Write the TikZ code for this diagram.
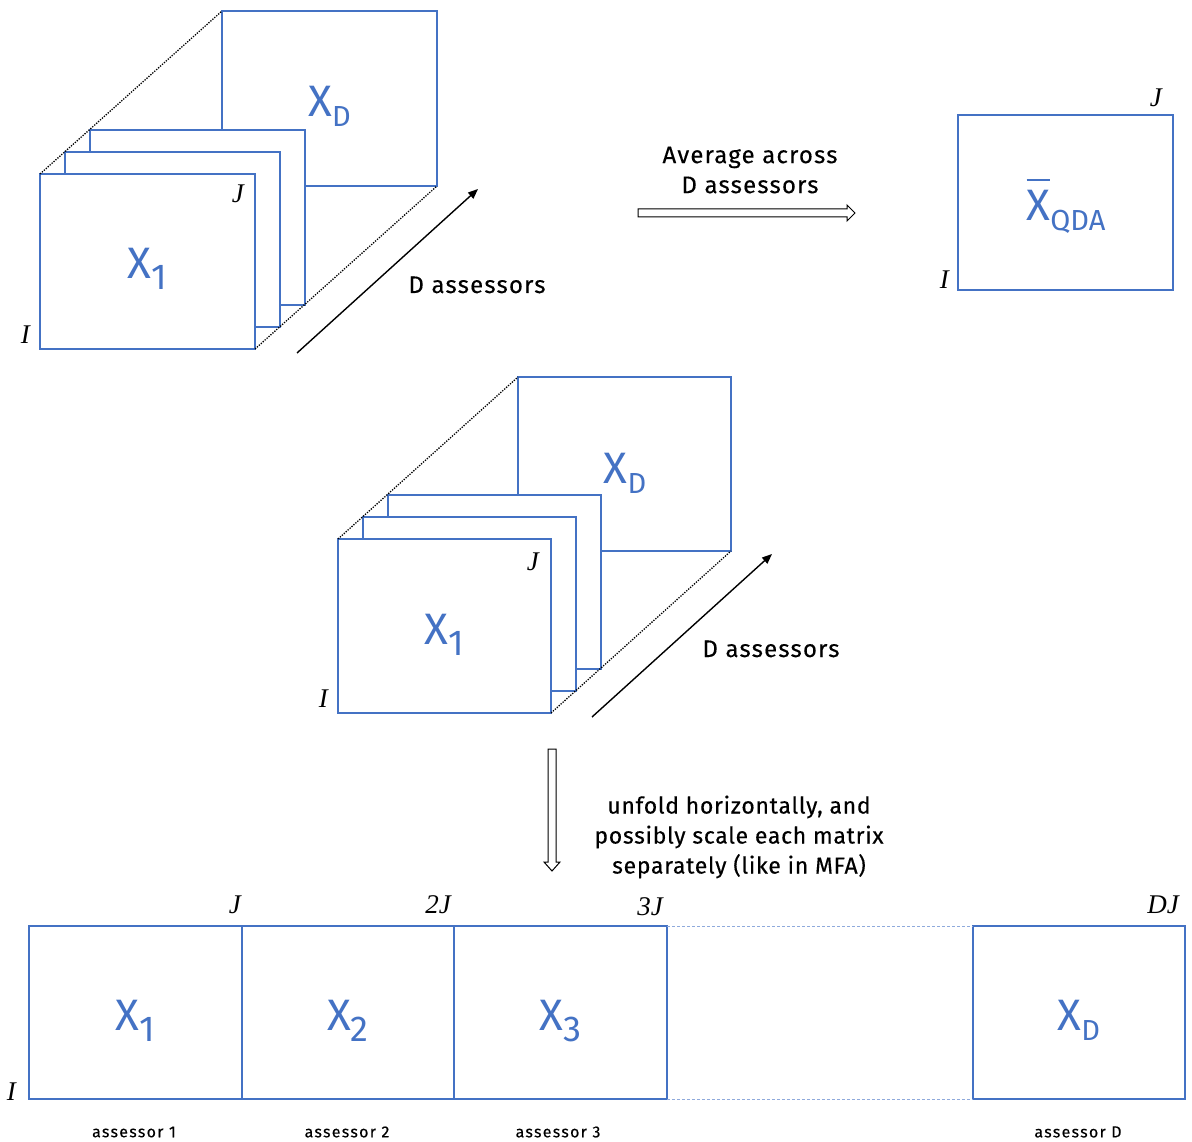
\documentclass[tikz,border=0pt]{standalone}
\usepackage{fontspec}
\setmainfont{Fira Sans}
\newfontfamily\tms{Liberation Serif}
\newfontfamily\lbl[LetterSpace=5,FakeBold=0.3]{Fira Sans}
\newfontfamily\lblu[LetterSpace=3,FakeBold=0.3]{Fira Sans}
\newfontfamily\lbls[LetterSpace=8,FakeBold=0.3]{Fira Sans}
\usetikzlibrary{arrows.meta}
\definecolor{mblue}{HTML}{4472C4}
\definecolor{dblue}{HTML}{8FAADC}
\newcommand\mX[1]{{\fontsize{44}{44}\selectfont X}\raisebox{-11pt}{\fontsize{36}{36}\selectfont #1}}
\newcommand\mXl[1]{{\fontsize{44}{44}\selectfont X}\raisebox{-10pt}{\fontsize{29}{29}\selectfont #1}}
\newcommand\mbarX{{\fontsize{44}{44}\selectfont\setbox0\hbox{X}\rlap{\raisebox{\dimexpr\ht0+10pt\relax}{\rule{\wd0}{1.8pt}}}\box0}\raisebox{-10pt}{\fontsize{29}{29}\selectfont QDA}}
\tikzset{
 mat/.style={draw=mblue, line width=1.4pt, fill=white, minimum width=215pt, minimum height=175pt, anchor=north west, inner sep=0pt, outer sep=0pt},
 matm/.style={mat, minimum width=213pt, minimum height=174pt},
 matb/.style={mat, fill=none, minimum width=213pt, minimum height=173pt},
 mlab/.style={text=mblue, inner sep=0pt, anchor=base},
 ital/.style={font=\tms\itshape\fontsize{27}{27}\selectfont, inner sep=0pt, anchor=base east},
 txt/.style={font=\lbl\fontsize{24}{30}\selectfont, align=center, inner sep=0pt},
 txtu/.style={font=\lblu\fontsize{23}{30}\selectfont, align=center, inner sep=0pt},
 smalltxt/.style={font=\lbls\fontsize{16}{16}\selectfont, inner sep=0pt},
 dots/.style={dash pattern=on 1.3pt off 1.3pt, line width=1.3pt},
 darrow/.style={-{Triangle[length=10pt,width=8pt]}, line width=1.4pt},
 hollow/.style={draw=black, line width=1pt, fill=white},
 gap/.style={dash pattern=on 3pt off 2pt, draw=dblue, line width=0.8pt}
}
\begin{document}
\begin{tikzpicture}[x=1pt,y=-1pt]
\useasboundingbox (0,0) rectangle (1192,1142);
% ---------- top stack ----------
\node[mat] (tb) at (222,11) {};
\node[mat] (t3) at (90,130) {};
\node[mat] (t2) at (65,152) {};
\node[mat] (t1) at (40,174) {};
\draw[dots] (t1.north west) -- (tb.north west);
\draw[dots] (t1.south east) -- (tb.south east);
\node[mlab] (tbl) at (329.5,117) {\mXl{D}};
\node[mlab] (t1l) at (147,279) {\mX{1}};
\node[ital] (tJ) at (244,203) {J};
\node[ital] (tI) at (30,343) {I};
\coordinate (ta0) at (297,353);
\coordinate (ta1) at (478,189);
\draw[darrow] (ta0) -- (ta1);
\node[txt, anchor=base] (tal) at (477,293) {D assessors};
% ---------- average ----------
\node[txt] (avg) at (750,170) {Average across\\D assessors};
\draw[hollow] (638,209) -- (847,209) -- (847,205) -- (855,213) -- (847,221) -- (847,217) -- (638,217) -- cycle;
\node[mat] (q) at (958,115) {};
\node[mlab] (ql) at (1066,221) {\mbarX};
\node[ital] (qJ) at (1162,107) {J};
\node[ital] (qI) at (949,288) {I};
% ---------- middle stack ----------
\node[matm] (mb) at (518,377) {};
\node[matm] (m3) at (388,495) {};
\node[matm] (m2) at (363,517) {};
\node[matm] (m1) at (338,539) {};
\draw[dots] (m1.north west) -- (mb.north west);
\draw[dots] (m1.south east) -- (mb.south east);
\node[mlab] (mbl) at (625,483) {\mXl{D}};
\node[mlab] (m1l) at (444,644) {\mX{1}};
\node[ital] (mJ) at (539,570) {J};
\node[ital] (mI) at (328,707) {I};
\coordinate (ma0) at (592,717);
\coordinate (ma1) at (772,554);
\draw[darrow] (ma0) -- (ma1);
\node[txt, anchor=base] (mal) at (771,657) {D assessors};
% ---------- unfold ----------
\draw[hollow] (548,749) -- (556,749) -- (556,862) -- (560,862) -- (552,871) -- (544,862) -- (548,862) -- cycle;
\node[txtu] (unf) at (739,837) {unfold horizontally, and\\possibly scale each matrix\\separately (like in MFA)};
% ---------- bottom row ----------
\node[matb] (b1) at (29,926) {};
\node[matb, minimum width=212pt] (b2) at (242,926) {};
\node[matb] (b3) at (454,926) {};
\node[matb, minimum width=212pt] (bD) at (973,926) {};
\draw[gap] (b3.north east) -- (bD.north west);
\draw[gap] (b3.south east) -- (bD.south west);
\node[mlab] (b1l) at (135.3,1030) {\mX{1}};
\node[mlab] (b2l) at (348,1030) {\mX{2}};
\node[mlab] (b3l) at (560.5,1030) {\mX{3}};
\node[mlab] (bDl) at (1078.8,1030) {\mXl{D}};
\node[ital] (bJ1) at (241,913) {J};
\node[ital] (bJ2) at (451,913) {2J};
\node[ital] (bJ3) at (663,915) {3J};
\node[ital] (bJD) at (1179,913) {DJ};
\node[ital] (bI) at (16,1100) {I};
\node[smalltxt] (s1) at (134,1132) {assessor 1};
\node[smalltxt] (s2) at (347,1132) {assessor 2};
\node[smalltxt] (s3) at (558,1132) {assessor 3};
\node[smalltxt] (sD) at (1078,1132) {assessor D};
\end{tikzpicture}
\end{document}
